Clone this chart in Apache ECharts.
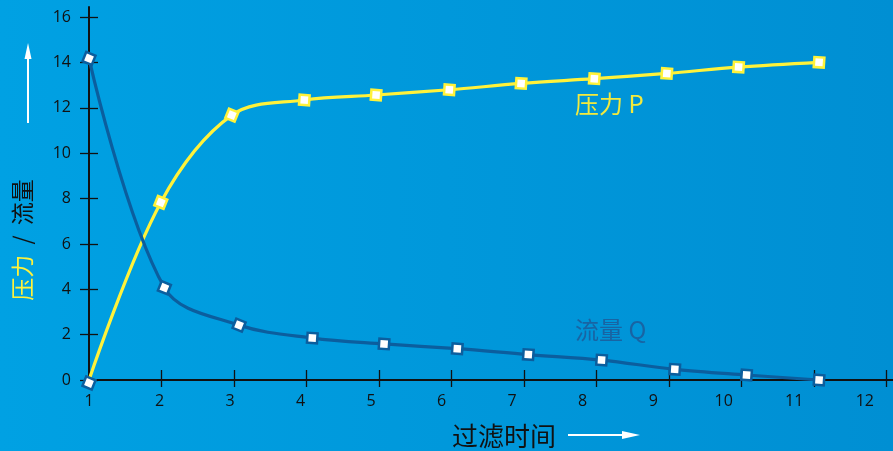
<!DOCTYPE html>
<html>
<head>
<meta charset="utf-8">
<script src="https://cdn.jsdelivr.net/npm/echarts@6/dist/echarts.min.js"></script>
<style>
html,body{margin:0;padding:0;}
#c{width:893px;height:451px;}
</style>
</head>
<body>
<div id="c"></div>
<script>
// ---- data ----
var xTickValues = [1,2,3,4,5,6,7,8,9,10,11,12];
var yTickValues = [0,2,4,6,8,10,12,14,16];
var pX = [1, 1.99, 2.97, 3.97, 4.96, 5.97, 6.96, 7.97, 8.97, 9.96, 11.07];
var pY = [0, 7.83, 11.68, 12.35, 12.57, 12.80, 13.08, 13.29, 13.52, 13.80, 14.01];
var qX = [1, 2.04, 3.07, 4.08, 5.07, 6.08, 7.06, 8.07, 9.08, 10.07, 11.07];
var qY = [14.18, 4.07, 2.42, 1.85, 1.59, 1.38, 1.12, 0.88, 0.47, 0.22, 0.0];
var labelP = '压力 P';
var labelQ = '流量 Q';
var xTitle = '过滤时间';

var YELLOW = '#fff23a';
var BLUE = '#0b5e9e';
var FONT = '"Open Sans","Noto Sans",sans-serif';
var CJK = '"Noto Sans CJK SC",sans-serif';

var chart = echarts.init(document.getElementById('c'));

function pairs(xs, ys){ return xs.map(function(x,i){ return [x, ys[i]]; }); }

var pData = pairs(pX, pY).map(function(v, i){
  if (i === 0) {
    return {value: v, symbolOffset: [0, 3], itemStyle: {color: '#fff', borderColor: BLUE}};
  }
  return {value: v};
});
var qData = pairs(qX, qY);

function rot(v, p){ return p.dataIndex < 3 ? -22 : -4; }

var xMin = 1, xMax = 12.09, xLabMax = 12.40;
var yMin = 0, yMax = 16.45;

var option = {
  animation: false,
  graphic: [
    {type:'rect', z:-100, silent:true, shape:{x:0,y:0,width:893,height:451},
     style:{fill: new echarts.graphic.LinearGradient(0,0,1,0,[{offset:0,color:'#00a1e3'},{offset:1,color:'#008fd3'}])}},
    // y title
    {type:'text', x:22, y:240, rotation: Math.PI/2, z:10,
     style:{text:'{y|压力}{k|  /  }{k|流量}', align:'center', verticalAlign:'middle',
       rich:{y:{fill:YELLOW, fontSize:23, fontFamily:CJK}, k:{fill:'#111', fontSize:23, fontFamily:CJK}}}},
    // up arrow
    {type:'line', z:10, shape:{x1:28, y1:123, x2:28, y2:55}, style:{stroke:'#fff', lineWidth:2}},
    {type:'polygon', z:10, shape:{points:[[28,43],[24.5,59],[31.5,59]]}, style:{fill:'#fff'}},
    // x title
    {type:'text', x:504, y:436, z:10,
     style:{text: xTitle, fill:'#111', fontSize:26, fontFamily:CJK, align:'center', verticalAlign:'middle'}},
    {type:'line', z:10, shape:{x1:568, y1:435, x2:626, y2:435}, style:{stroke:'#fff', lineWidth:2}},
    {type:'polygon', z:10, shape:{points:[[640,435],[622,431],[622,439]]}, style:{fill:'#fff'}},
    // series labels
    {type:'text', x:575, y:104, z:10,
     style:{text: labelP, fill:'#f4ea3c', fontSize:24, fontFamily:CJK, align:'left', verticalAlign:'middle'}},
    {type:'text', x:575, y:330, z:10,
     style:{text: labelQ, fill:'#1864a3', fontSize:24, fontFamily:CJK, align:'left', verticalAlign:'middle'}}
  ],
  grid: {left: 89, right: 0, top: 7, bottom: 71, containLabel: false},
  xAxis: [
    {type:'value', min:xMin, max:xMax, position:'bottom',
     axisLine:{show:true, onZero:false, lineStyle:{color:'#111', width:2}},
     axisTick:{show:true, inside:true, length:10, customValues: xTickValues, lineStyle:{color:'#111', width:1.3}},
     axisLabel:{show:false}, splitLine:{show:false}},
    {type:'value', min:xMin, max:xMax, position:'bottom',
     axisLine:{show:false, onZero:false},
     axisTick:{show:true, inside:false, length:7, customValues: xTickValues, lineStyle:{color:'#111', width:1.3}},
     axisLabel:{show:false}, splitLine:{show:false}},
    {type:'value', min:xMin, max:xLabMax, position:'bottom',
     axisLine:{show:false, onZero:false}, axisTick:{show:false},
     axisLabel:{show:true, customValues: xTickValues, margin:13, color:'#111', fontSize:16, fontFamily:FONT},
     splitLine:{show:false}}
  ],
  yAxis: [
    {type:'value', min:yMin, max:yMax, position:'left',
     axisLine:{show:true, onZero:false, lineStyle:{color:'#111', width:2}},
     axisTick:{show:true, inside:false, length:9, customValues: yTickValues, lineStyle:{color:'#111', width:1.3}},
     axisLabel:{show:true, customValues: yTickValues, margin:18, color:'#111', fontSize:16, fontFamily:FONT},
     splitLine:{show:false}},
    {type:'value', min:yMin, max:yMax, position:'left',
     axisLine:{show:false, onZero:false},
     axisTick:{show:true, inside:true, length:9, customValues: yTickValues, lineStyle:{color:'#111', width:1.3}},
     axisLabel:{show:false}, splitLine:{show:false}}
  ],
  series: [
    {type:'line', name:'P', xAxisIndex:0, yAxisIndex:0, data:pData, smooth:0.35,
     lineStyle:{color:YELLOW, width:3.2}, symbol:'rect', symbolSize:10, symbolRotate: rot,
     itemStyle:{color:'#fff', borderColor:YELLOW, borderWidth:2.5}, z:3},
    {type:'line', name:'Q', xAxisIndex:0, yAxisIndex:0, data:qData, smooth:0.35,
     lineStyle:{color:BLUE, width:3.2}, symbol:'rect', symbolSize:10, symbolRotate: rot,
     itemStyle:{color:'#fff', borderColor:BLUE, borderWidth:2.5}, z:4}
  ]
};
chart.setOption(option);
</script>
</body>
</html>
